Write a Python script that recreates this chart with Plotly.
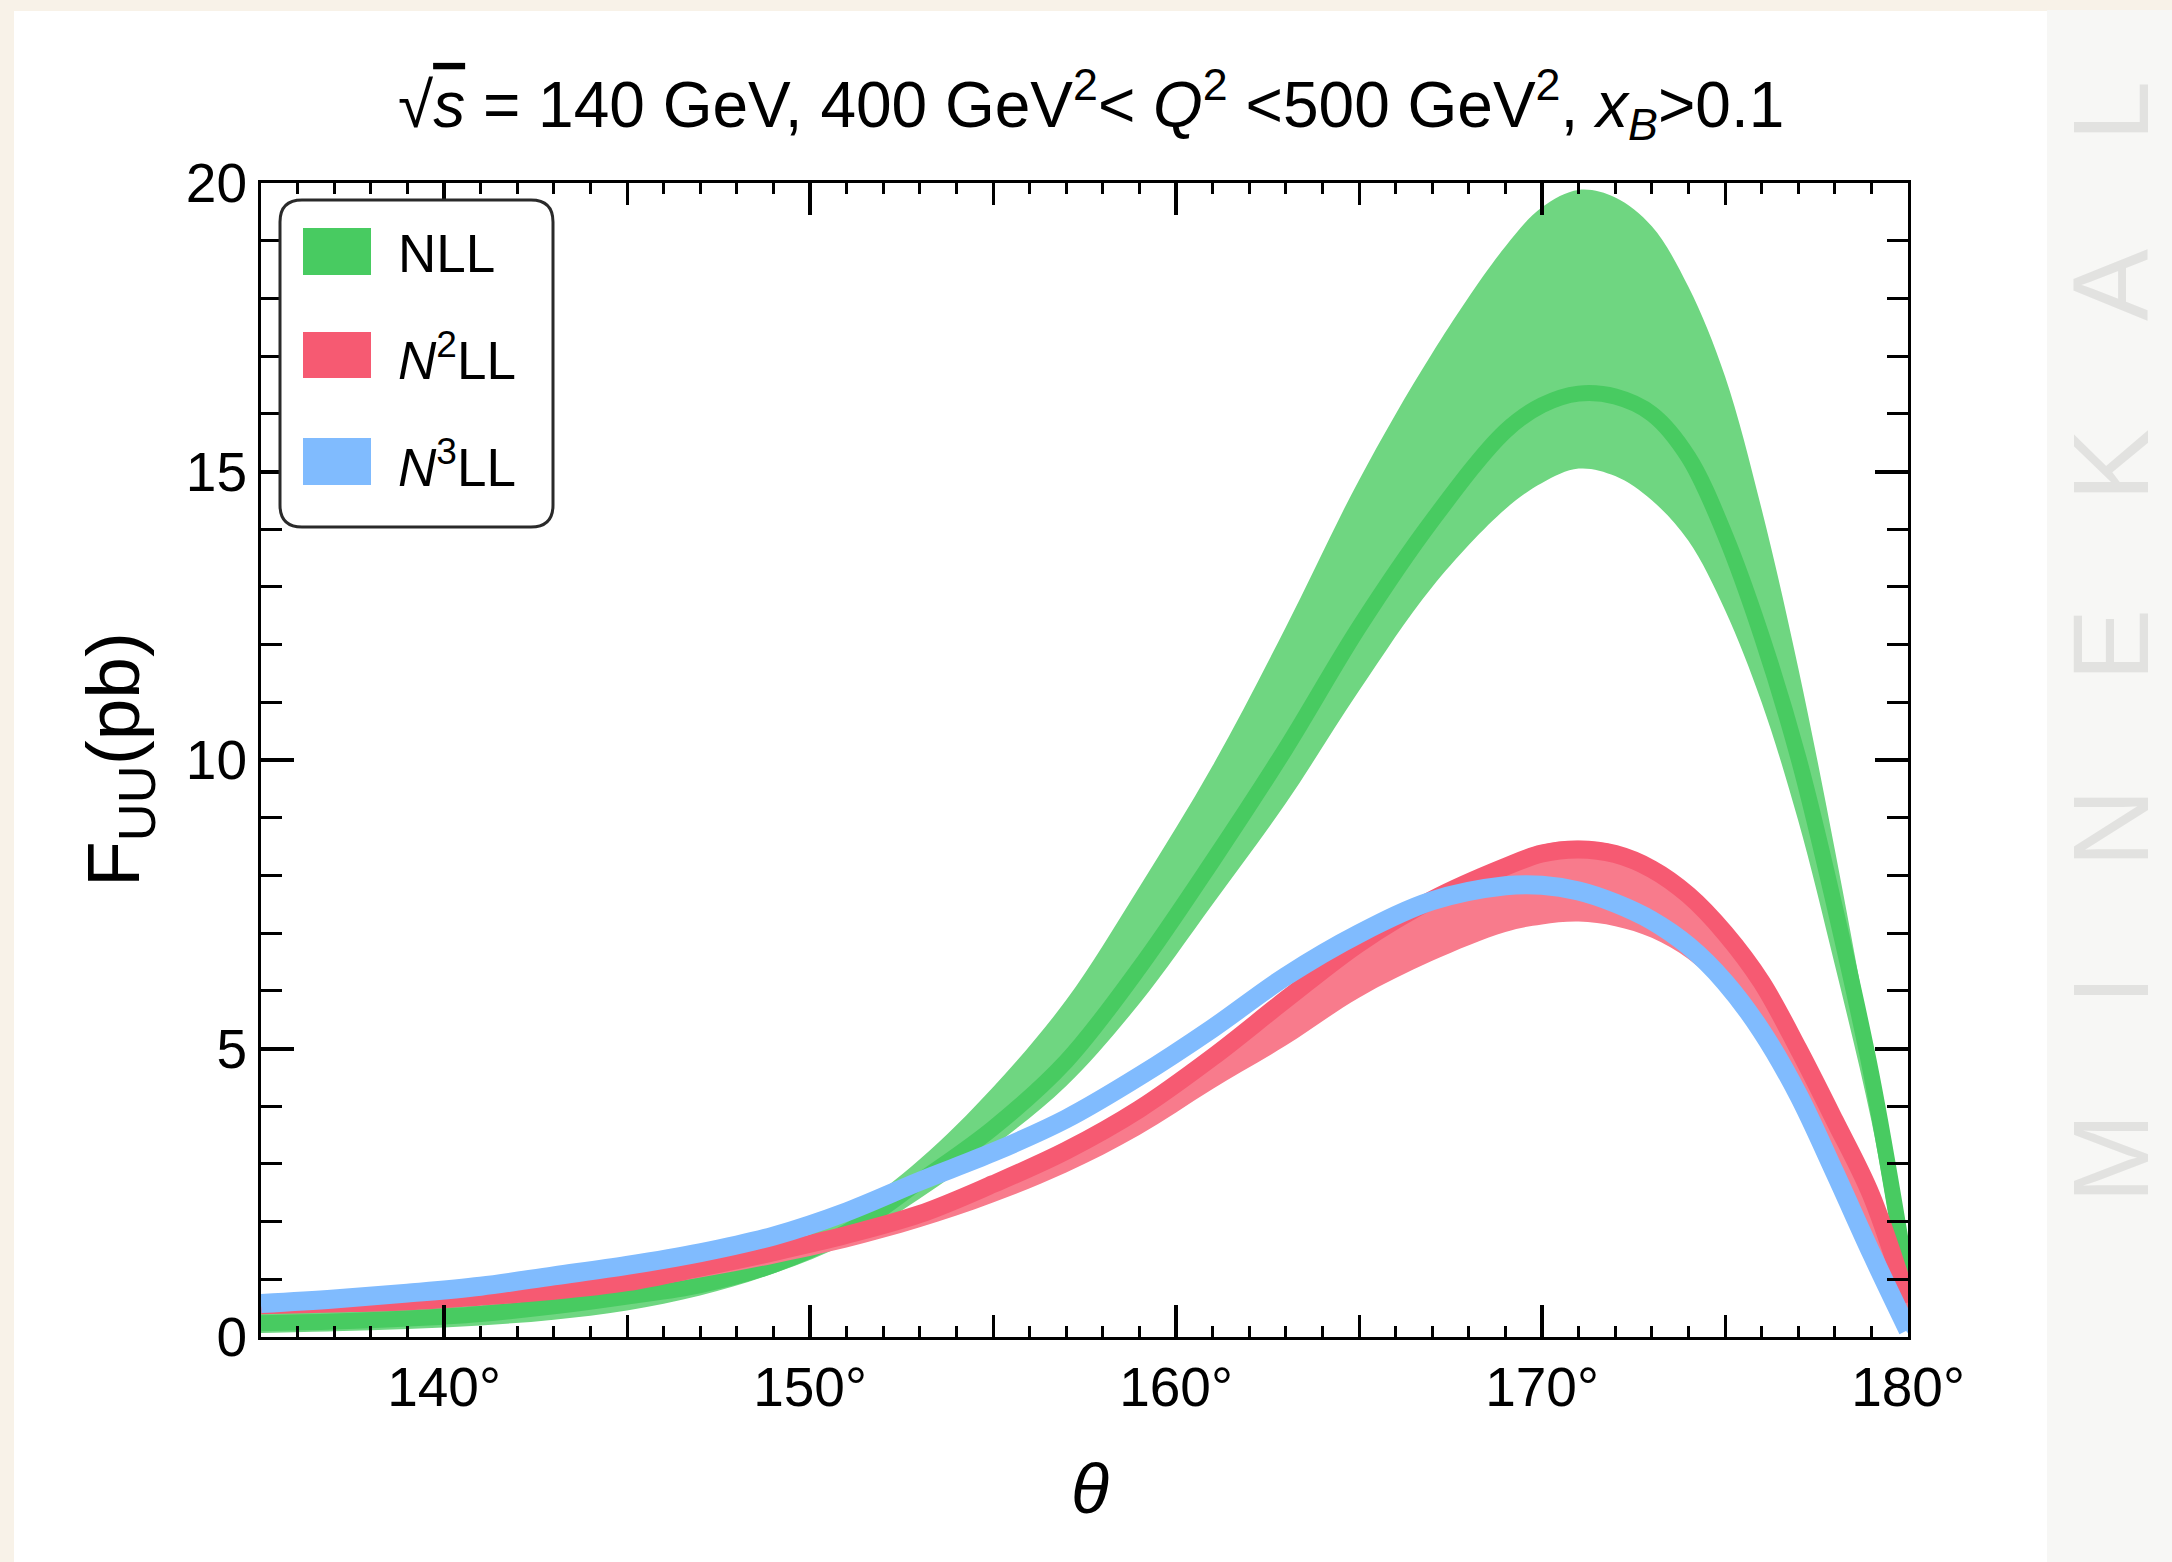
import plotly.graph_objects as go

# ---------------- data ----------------
theta = [135, 137, 139, 141, 143, 145, 147, 149, 151, 153, 155, 157, 159, 161, 163,
         165, 167, 169, 170, 171, 172, 173, 174, 175, 176, 177, 178, 179, 180]

nll_central = [0.24, 0.27, 0.32, 0.40, 0.53, 0.70, 0.90, 1.25, 1.82, 2.70, 3.62, 4.78, 6.40, 8.25, 10.20,
               12.30, 14.15, 15.70, 16.15, 16.35, 16.30, 16.00, 15.25, 13.90, 12.15, 10.05, 7.45, 4.55, 0.90]
nll_upper = [0.42, 0.44, 0.48, 0.55, 0.66, 0.85, 1.07, 1.50, 2.12, 3.08, 4.33, 5.84, 7.80, 9.90, 12.30,
             14.85, 17.05, 18.90, 19.58, 19.88, 19.75, 19.25, 18.20, 16.65, 14.35, 11.60, 8.45, 5.00, 1.00]
nll_lower = [0.07, 0.10, 0.14, 0.20, 0.30, 0.46, 0.72, 1.10, 1.62, 2.40, 3.30, 4.35, 5.78, 7.50, 9.25,
             11.20, 13.00, 14.35, 14.80, 15.05, 14.92, 14.50, 13.80, 12.60, 11.00, 8.95, 6.45, 3.75, 0.40]

n2ll_central = [0.55, 0.58, 0.62, 0.70, 0.80, 0.95, 1.20, 1.47, 1.77, 2.13, 2.65, 3.23, 3.95, 4.85, 5.85,
                6.82, 7.58, 8.15, 8.38, 8.45, 8.37, 8.11, 7.66, 7.00, 6.15, 5.00, 3.75, 2.45, 0.60]
n2ll_upper = [0.70, 0.73, 0.77, 0.85, 0.95, 1.10, 1.35, 1.62, 1.92, 2.28, 2.80, 3.38, 4.10, 5.00, 6.00,
              6.97, 7.73, 8.30, 8.53, 8.60, 8.52, 8.26, 7.81, 7.15, 6.30, 5.15, 3.90, 2.60, 0.70]
n2ll_lower = [0.42, 0.46, 0.51, 0.58, 0.68, 0.82, 1.03, 1.27, 1.55, 1.90, 2.33, 2.85, 3.50, 4.30, 5.05,
              5.88, 6.52, 7.02, 7.15, 7.20, 7.12, 6.92, 6.55, 5.95, 5.10, 4.00, 2.85, 1.65, 0.30]

n3ll_central = [0.58, 0.66, 0.76, 0.88, 1.06, 1.24, 1.46, 1.75, 2.17, 2.70, 3.20, 3.78, 4.52, 5.35, 6.25,
                6.99, 7.56, 7.82, 7.83, 7.73, 7.52, 7.22, 6.78, 6.15, 5.30, 4.20, 2.85, 1.45, 0.12]
n3ll_upper = [0.63, 0.71, 0.81, 0.93, 1.11, 1.29, 1.51, 1.80, 2.22, 2.75, 3.25, 3.83, 4.57, 5.40, 6.30,
              7.04, 7.61, 7.87, 7.88, 7.78, 7.57, 7.27, 6.83, 6.20, 5.35, 4.25, 2.90, 1.50, 0.17]
n3ll_lower = [0.53, 0.61, 0.71, 0.83, 1.01, 1.19, 1.41, 1.70, 2.12, 2.65, 3.15, 3.73, 4.47, 5.30, 6.20,
              6.94, 7.51, 7.77, 7.78, 7.68, 7.47, 7.17, 6.73, 6.10, 5.25, 4.15, 2.80, 1.40, 0.07]

series_names = ["NLL", "<i>N</i><sup>2</sup>LL", "<i>N</i><sup>3</sup>LL"]
line_colors = ["#48cb61", "#f65a72", "#80bbfe"]
band_colors = ["#6fd681", "#f87b8c", "#80bbfe"]
line_widths = [16, 18, 19]

x_tickvals = [140, 150, 160, 170, 180]
x_ticktext = ["140°", "150°", "160°", "170°", "180°"]
x_midticks = [145, 155, 165, 175]
y_tickvals = [0, 5, 10, 15, 20]

# ---------------- geometry helpers ----------------
W, H = 2172, 1562
L, R, T, B = 261, 1908, 183, 1337   # plot area in pixels


def px(x):
    return (x - L) / (R - L)


def py(y):
    return (B - y) / (B - T)


FONT = "Liberation Sans, Arial, Helvetica, sans-serif"
PAPER = "#f8f2e8"

fig = go.Figure()

bands = [(nll_upper, nll_lower, nll_central),
         (n2ll_upper, n2ll_lower, n2ll_central),
         (n3ll_upper, n3ll_lower, n3ll_central)]

for i, (up, lo, ce) in enumerate(bands):
    fig.add_trace(go.Scatter(
        x=theta + theta[::-1], y=up + lo[::-1],
        fill="toself", fillcolor=band_colors[i],
        line=dict(width=0, shape="spline", smoothing=1.0),
        mode="lines", hoverinfo="skip", showlegend=False))
    fig.add_trace(go.Scatter(
        x=theta, y=ce, mode="lines",
        line=dict(color=line_colors[i], width=line_widths[i], shape="spline", smoothing=1.0),
        name=series_names[i], showlegend=False))

# empty trace that carries the medium-tick axis
fig.add_trace(go.Scatter(x=[], y=[], xaxis="x2", yaxis="y", showlegend=False))

fig.update_layout(
    width=W, height=H,
    margin=dict(l=L, r=W - R, t=T, b=H - B, pad=0),
    paper_bgcolor=PAPER,
    plot_bgcolor="white",
    font=dict(family=FONT, color="black"),
    xaxis=dict(range=[135, 180], tickvals=x_tickvals, ticktext=x_ticktext,
               ticks="inside", ticklen=32, tickwidth=4, tickcolor="black",
               showline=True, linewidth=3, linecolor="black", mirror="ticks",
               showgrid=False, zeroline=False,
               tickfont=dict(size=55, family=FONT, color="black"),
               minor=dict(dtick=1, tick0=135, ticks="inside", ticklen=11, tickwidth=2.5,
                          tickcolor="black", showgrid=False)),
    xaxis2=dict(range=[135, 180], overlaying="x", anchor="y", side="bottom",
                tickvals=x_midticks, ticks="inside", ticklen=22, tickwidth=2.5,
                tickcolor="black", mirror="ticks", showline=False,
                showticklabels=False, showgrid=False, zeroline=False),
    yaxis=dict(range=[0, 20], tickvals=y_tickvals,
               ticks="inside", ticklen=33, tickwidth=4, tickcolor="black",
               showline=True, linewidth=3, linecolor="black", mirror="ticks",
               showgrid=False, zeroline=False,
               tickfont=dict(size=55, family=FONT, color="black"),
               minor=dict(dtick=1, tick0=0, ticks="inside", ticklen=21, tickwidth=2.5,
                          tickcolor="black", showgrid=False)),
)

shapes = []
# white page area and right grey strip
shapes.append(dict(type="rect", xref="paper", yref="paper", layer="below",
                   x0=px(14), x1=px(2047), y0=py(H + 5), y1=py(11),
                   fillcolor="white", line=dict(width=0)))
shapes.append(dict(type="rect", xref="paper", yref="paper", layer="below",
                   x0=px(2047), x1=px(W + 5), y0=py(H + 5), y1=py(10),
                   fillcolor="#f7f7f5", line=dict(width=0)))

# legend box (rounded)
lx0, lx1, ly0, ly1, rr = 280, 553, 200, 527, 22
path = (f"M {px(lx0 + rr)} {py(ly0)} L {px(lx1 - rr)} {py(ly0)} "
        f"Q {px(lx1)} {py(ly0)} {px(lx1)} {py(ly0 + rr)} "
        f"L {px(lx1)} {py(ly1 - rr)} Q {px(lx1)} {py(ly1)} {px(lx1 - rr)} {py(ly1)} "
        f"L {px(lx0 + rr)} {py(ly1)} Q {px(lx0)} {py(ly1)} {px(lx0)} {py(ly1 - rr)} "
        f"L {px(lx0)} {py(ly0 + rr)} Q {px(lx0)} {py(ly0)} {px(lx0 + rr)} {py(ly0)} Z")
shapes.append(dict(type="path", xref="paper", yref="paper", path=path,
                   fillcolor="white", line=dict(color="#2a2a2a", width=3)))

sw_y = [(228, 275), (332, 378), (438, 485)]
for i, (a, b) in enumerate(sw_y):
    shapes.append(dict(type="rect", xref="paper", yref="paper",
                       x0=px(303), x1=px(371), y0=py(b), y1=py(a),
                       fillcolor=line_colors[i], line=dict(width=0)))
fig.update_layout(shapes=shapes)

ann = []
for i, (a, b) in enumerate(sw_y):
    ann.append(dict(xref="paper", yref="paper", x=px(396), y=py((a + b) / 2 + 2),
                    xanchor="left", yanchor="middle", showarrow=False,
                    text=series_names[i], font=dict(size=53, family=FONT, color="black")))

title = ("√<span style='text-decoration:overline'><i>s</i></span> = 140 GeV, 400 GeV<sup>2</sup>"
         "&lt; <i>Q</i><sup>2</sup> &lt;500 GeV<sup>2</sup>, <i>x</i><sub><i>B</i></sub>&gt;0.1")
ann.append(dict(xref="paper", yref="paper", x=px(1091), y=py(104), xanchor="center",
                yanchor="middle", showarrow=False, text=title,
                font=dict(size=64, family=FONT, color="black")))
ann.append(dict(xref="paper", yref="paper", x=px(118), y=py(760), xanchor="center",
                yanchor="middle", showarrow=False, textangle=-90,
                text="F<sub>UU</sub>(pb)", font=dict(size=75, family=FONT, color="black")))
ann.append(dict(xref="paper", yref="paper", x=px(1090), y=py(1489), xanchor="center",
                yanchor="middle", showarrow=False, text="<i>θ</i>",
                font=dict(size=70, family=FONT, color="black")))
ann.append(dict(xref="paper", yref="paper", x=px(2110), y=py(642), xanchor="center",
                yanchor="middle", showarrow=False, textangle=-90,
                text="M\u2003I\u2003N\u2003E\u2003K\u2003A\u2003L",
                font=dict(size=108, family=FONT, color="#e2e2e0")))
fig.update_layout(annotations=ann)

fig.write_html(
    "out.html",
    config={"displayModeBar": False},
    post_script=("document.body.style.margin='0px';"
                 "document.body.style.background='" + PAPER + "';"),
)
